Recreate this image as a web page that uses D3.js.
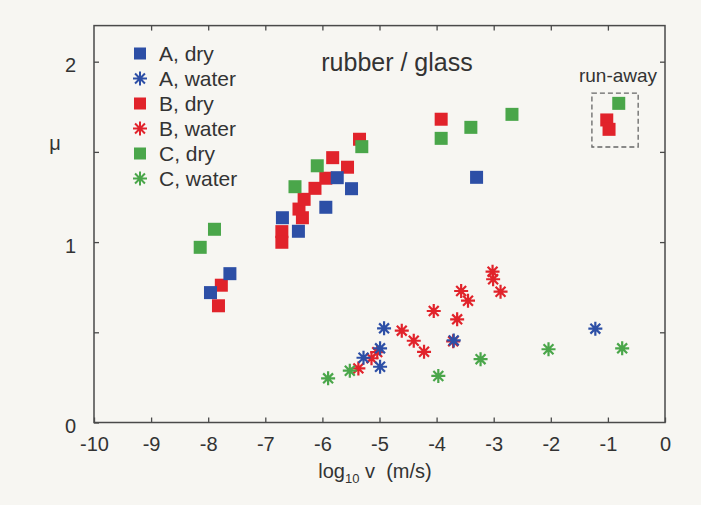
<!DOCTYPE html>
<html>
<head>
<meta charset="utf-8">
<script src="https://cdn.jsdelivr.net/npm/d3@7"></script>
<style>
  body { margin: 0; background: #f7f6f2; }
  svg { display: block; font-family: "Liberation Sans", Arial, sans-serif; }
</style>
</head>
<body>
<svg id="chart"></svg>
<script>
// log10 v (m/s) and friction coefficient mu
var aDryX = [-7.62, -7.96, -6.70, -6.42, -5.94, -5.74, -5.49, -3.30];
var aDryY = [0.825, 0.72, 1.135, 1.06, 1.193, 1.357, 1.296, 1.359];
var bDryX = [-7.77, -7.82, -6.71, -6.71, -6.35, -6.41, -6.32, -6.13, -5.94, -5.82, -5.56, -5.35, -3.92, -1.02, -0.98];
var bDryY = [0.761, 0.647, 1.058, 0.999, 1.135, 1.183, 1.237, 1.298, 1.354, 1.468, 1.415, 1.570, 1.681, 1.677, 1.625];
var cDryX = [-8.14, -7.89, -6.48, -6.09, -5.31, -3.92, -3.40, -2.68, -0.81];
var cDryY = [0.971, 1.071, 1.307, 1.423, 1.529, 1.575, 1.636, 1.708, 1.769];
var aWetX = [-5.28, -4.92, -4.99, -4.99, -3.70, -1.22];
var aWetY = [0.359, 0.522, 0.411, 0.309, 0.455, 0.52];
var bWetX = [-5.37, -5.14, -5.04, -4.61, -4.40, -4.22, -4.05, -3.71, -3.64, -3.57, -3.45, -3.02, -3.01, -2.88];
var bWetY = [0.30, 0.356, 0.39, 0.509, 0.453, 0.392, 0.618, 0.45, 0.572, 0.729, 0.675, 0.836, 0.794, 0.725];
var cWetX = [-5.90, -5.52, -3.97, -3.23, -2.04, -0.75];
var cWetY = [0.245, 0.287, 0.258, 0.351, 0.406, 0.411];

var xTicks = [-10, -9, -8, -7, -6, -5, -4, -3, -2, -1, 0];
var yTicks = [0, 0.5, 1, 1.5, 2];
var legendLabels = ["A, dry", "A, water", "B, dry", "B, water", "C, dry", "C, water"];

var blue = "#2d4fa6", red = "#e1232b", green = "#4aa64a";

var width = 701, height = 505;
var svg = d3.select("#chart").attr("width", width).attr("height", height);

var x = d3.scaleLinear().domain([-10, 0]).range([94, 665]);
var y = d3.scaleLinear().domain([0, 2.2]).range([422.5, 25.6]);

// frame
svg.append("rect")
  .attr("x", x(-10)).attr("y", y(2.2))
  .attr("width", x(0) - x(-10)).attr("height", y(0) - y(2.2))
  .attr("fill", "none").attr("stroke", "#4a4a4a").attr("stroke-width", 1.5);

function styleAxis(g) {
  g.select(".domain").remove();
  g.selectAll("line").attr("stroke", "#4a4a4a").attr("stroke-width", 1.3);
  g.selectAll("text").attr("fill", "#333").attr("font-size", 20);
}

svg.append("g")
  .attr("transform", "translate(0," + y(0) + ")")
  .call(d3.axisBottom(x).tickValues(xTicks).tickSizeInner(-5).tickSizeOuter(0).tickPadding(14)
    .tickFormat(function(d) { return String(d); }))
  .call(styleAxis);

svg.append("g")
  .attr("transform", "translate(0," + y(2.2) + ")")
  .call(d3.axisTop(x).tickValues(xTicks.slice(1, -1)).tickSizeInner(-5).tickSizeOuter(0).tickFormat(""))
  .call(styleAxis);

svg.append("g")
  .attr("transform", "translate(" + x(-10) + ",0)")
  .call(d3.axisLeft(y).tickValues(yTicks).tickSizeInner(-5).tickSizeOuter(0).tickPadding(18)
    .tickFormat(function(d) { return d % 1 === 0 ? d : ""; }))
  .call(styleAxis)
  .selectAll("text").attr("dy", "0.5em");

svg.append("g")
  .attr("transform", "translate(" + x(0) + ",0)")
  .call(d3.axisRight(y).tickValues(yTicks.slice(1)).tickSizeInner(-5).tickSizeOuter(0).tickFormat(""))
  .call(styleAxis);

// axis titles
var xl = svg.append("text")
  .attr("x", 375).attr("y", 478)
  .attr("text-anchor", "middle").attr("font-size", 20).attr("fill", "#333")
  .attr("xml:space", "preserve").style("white-space", "pre");
xl.append("tspan").text("log");
xl.append("tspan").attr("font-size", 13).attr("dy", 5).text("10");
xl.append("tspan").attr("dy", -5).text(" v  (m/s)");

svg.append("text")
  .attr("x", 55).attr("y", 150)
  .attr("text-anchor", "middle").attr("font-size", 20).attr("fill", "#333")
  .text("\u03bc");

svg.append("text")
  .attr("x", 397).attr("y", 71)
  .attr("text-anchor", "middle").attr("font-size", 25).attr("fill", "#333")
  .text("rubber / glass");

// run-away box
svg.append("rect")
  .attr("x", x(-1.28)).attr("y", y(1.826))
  .attr("width", x(-0.47) - x(-1.28)).attr("height", y(1.527) - y(1.826))
  .attr("fill", "none").attr("stroke", "#666").attr("stroke-width", 1.3)
  .attr("stroke-dasharray", "5,3");

svg.append("text")
  .attr("x", 618).attr("y", 82)
  .attr("text-anchor", "middle").attr("font-size", 19).attr("fill", "#333")
  .text("run-away");

function zip(xs, ys) {
  return xs.map(function(d, i) { return [d, ys[i]]; });
}

var sq = 13;
function squares(xs, ys, color) {
  svg.append("g").selectAll("rect")
    .data(zip(xs, ys))
    .enter().append("rect")
    .attr("x", function(d) { return x(d[0]) - sq / 2; })
    .attr("y", function(d) { return y(d[1]) - sq / 2; })
    .attr("width", sq).attr("height", sq)
    .attr("fill", color);
}

var starR = 7;
var starPath = d3.range(4).map(function(i) {
  var a = i * Math.PI / 4;
  var dx = starR * Math.cos(a), dy = starR * Math.sin(a);
  return "M" + (-dx) + "," + (-dy) + "L" + dx + "," + dy;
}).join("");

function stars(xs, ys, color) {
  svg.append("g").selectAll("path")
    .data(zip(xs, ys))
    .enter().append("path")
    .attr("d", starPath)
    .attr("transform", function(d) { return "translate(" + x(d[0]) + "," + y(d[1]) + ")"; })
    .attr("stroke", color).attr("stroke-width", 2.2).attr("fill", "none");
}

squares(bDryX, bDryY, red);
squares(aDryX, aDryY, blue);
squares(cDryX, cDryY, green);
stars(bWetX, bWetY, red);
stars(aWetX, aWetY, blue);
stars(cWetX, cWetY, green);

// legend
var legendColors = [blue, blue, red, red, green, green];
var legend = svg.append("g");
legendLabels.forEach(function(lab, i) {
  var ly = 53.5 + i * 25;
  if (i % 2 === 0) {
    legend.append("rect")
      .attr("x", 140 - 6).attr("y", ly - 6).attr("width", 12).attr("height", 12)
      .attr("fill", legendColors[i]);
  } else {
    legend.append("path")
      .attr("d", starPath)
      .attr("transform", "translate(140," + ly + ")")
      .attr("stroke", legendColors[i]).attr("stroke-width", 2).attr("fill", "none");
  }
  legend.append("text")
    .attr("x", 159).attr("y", ly).attr("dy", "0.36em")
    .attr("font-size", 21).attr("fill", "#333")
    .text(lab);
});
</script>
</body>
</html>
